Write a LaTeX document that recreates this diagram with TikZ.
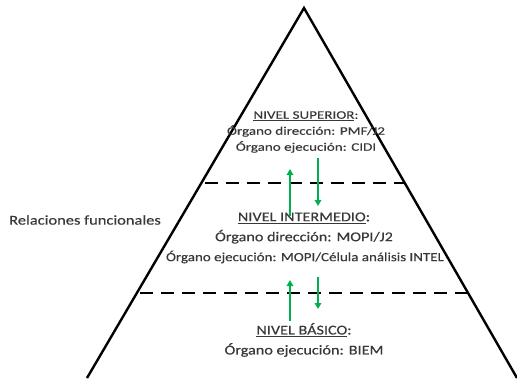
\documentclass[tikz,border=0pt]{standalone}
\usepackage{fontspec}
\setmainfont{Carlito}
\newfontfamily\fsup[FakeStretch=1.31,FakeBold=0.3]{Carlito}
\newfontfamily\fint[FakeStretch=1.2,FakeBold=0.3]{Carlito}
\newfontfamily\frel[FakeStretch=1.22,FakeBold=0.3]{Carlito}
\usetikzlibrary{arrows.meta}
\definecolor{txt}{HTML}{383838}
\definecolor{grn}{HTML}{00B050}
\tikzset{
  side/.style={line width=2.4pt, black},
  level/.style={line width=2.8pt, black, dash pattern=on 13pt off 8pt},
  flow/.style={line width=2pt, grn, -{Triangle[width=6.5pt,length=6pt]}},
  lbl/.style={text=txt, inner sep=0pt, align=center},
}
\begin{document}
\begin{tikzpicture}[x=1pt,y=-1pt]
\useasboundingbox (0,0) rectangle (517,378);
\begin{scope}
\clip (0,0) rectangle (517,378);
\coordinate (apex) at (304,8);
\coordinate (bl) at (87,378);
\coordinate (br) at (517,378);
\draw[side, line join=miter] (bl) -- (apex) -- (br);
\end{scope}
\coordinate (d1a) at (205,183);
\coordinate (d1b) at (405,183);
\coordinate (d2a) at (140,293);
\coordinate (d2b) at (470,293);
\draw[level] (d1a) -- (d1b);
\draw[level] (d2a) -- (d2b);
% texts
\node[lbl, font=\fsup\fontsize{11.5}{16}\selectfont] (sup) at (306,132)
  {\underline{NIVEL SUPERIOR}:\\Órgano dirección: PMF/J2\\Órgano ejecución: CIDI};
\node[lbl, font=\fint\fontsize{13.5}{20}\selectfont] (int1) at (304,228)
  {\underline{NIVEL INTERMEDIO}:\\Órgano dirección: MOPI/J2};
\node[lbl, font=\fint\fontsize{12.5}{14}\selectfont] (int2) at (305,257)
  {Órgano ejecución: MOPI/Célula análisis INTEL};
\node[lbl, font=\fint\fontsize{13.5}{20}\selectfont] (bas) at (304,340)
  {\underline{NIVEL BÁSICO}:\\Órgano ejecución: BIEM};
\node[lbl, font=\frel\fontsize{13.5}{15}\selectfont, anchor=west] (rel) at (9,220)
  {Relaciones funcionales};
% arrows
\coordinate (u1s) at (290,216);
\coordinate (u1e) at (290,169);
\coordinate (d1s) at (318,158);
\coordinate (d1e) at (318,206);
\coordinate (u2s) at (290,321);
\coordinate (u2e) at (290,280);
\coordinate (d2s) at (318,277);
\coordinate (d2e) at (318,309);
\draw[flow] (u1s) -- (u1e);
\draw[flow] (d1s) -- (d1e);
\draw[flow] (u2s) -- (u2e);
\draw[flow] (d2s) -- (d2e);
\end{tikzpicture}
\end{document}
